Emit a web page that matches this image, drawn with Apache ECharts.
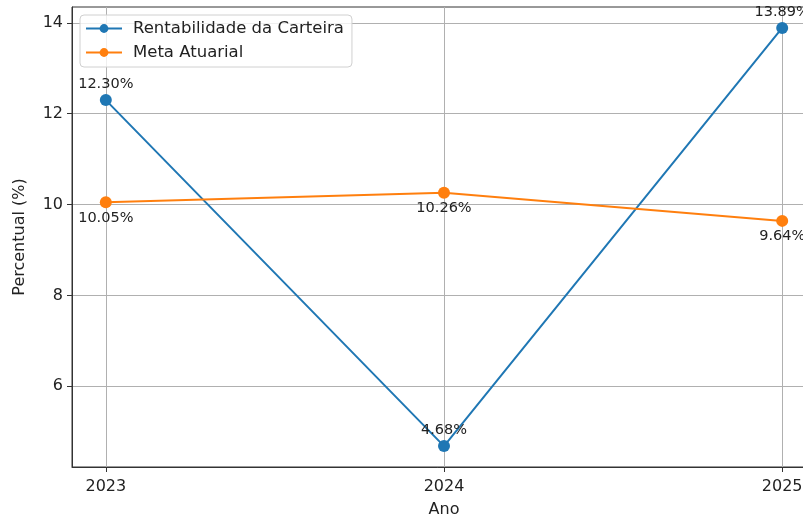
<!DOCTYPE html>
<html>
<head>
<meta charset="utf-8">
<script src="https://cdn.jsdelivr.net/npm/echarts@6/dist/echarts.min.js"></script>
<style>html,body{margin:0;padding:0;background:#fff}#c{width:803px;height:518px}</style>
</head>
<body>
<div id="c"></div>
<script>
const anos = [2023, 2024, 2025];
const rentabilidade = [12.30, 4.68, 13.89];
const metaAtuarial = [10.05, 10.26, 9.64];
const yTicks = [6, 8, 10, 12, 14];

const FONT = 'DejaVu Sans';
const chart = echarts.init(document.getElementById('c'), null, {renderer: 'canvas'});
const pair = (xs, ys) => xs.map((x, i) => [x, ys[i]]);
chart.setOption({
  animation: false,
  backgroundColor: '#fff',
  textStyle: {fontFamily: FONT},
  grid: {left: 72, top: 7, width: 744, height: 460, outerBoundsMode: 'none', containLabel: false,
    show: true, borderColor: '#333', borderWidth: 1, backgroundColor: 'transparent'},
  legend: {
    left: 80, top: 15, orient: 'vertical',
    itemWidth: 36, itemHeight: 11, itemGap: 7,
    padding: [5, 8, 6, 5],
    borderColor: '#d0d0d0', borderWidth: 1, borderRadius: 4, backgroundColor: 'rgba(255,255,255,0.8)',
    textStyle: {fontFamily: FONT, fontSize: 16.5, color: '#222', padding: [0, 0, 0, 6]},
    data: ['Rentabilidade da Carteira', 'Meta Atuarial']
  },
  xAxis: {
    type: 'value', min: 2022.9, max: 2025.1,
    name: 'Ano', nameLocation: 'middle', nameGap: 35,
    nameTextStyle: {fontFamily: FONT, fontSize: 16, color: '#222'},
    axisLine: {show: true, lineStyle: {color: '#333', width: 1}},
    axisTick: {show: true, length: 5, inside: false, customValues: anos, lineStyle: {color: '#333'}},
    axisLabel: {customValues: anos, fontFamily: FONT, fontSize: 16, color: '#222', margin: 12, formatter: v => String(Math.round(v))},
    splitLine: {show: true, lineStyle: {color: '#b0b0b0', width: 1}}
  },
  yAxis: {
    type: 'value', min: 4.22, max: 14.35,
    name: 'Percentual (%)', nameLocation: 'middle', nameGap: 44,
    nameTextStyle: {fontFamily: FONT, fontSize: 16, color: '#222'},
    axisLine: {show: true, lineStyle: {color: '#333', width: 1}},
    axisTick: {show: true, length: 5, inside: false, customValues: yTicks, lineStyle: {color: '#333'}},
    axisLabel: {customValues: yTicks, fontFamily: FONT, fontSize: 16, color: '#222', margin: 9},
    splitLine: {show: true, lineStyle: {color: '#b0b0b0', width: 1}}
  },
  series: [
    {
      name: 'Rentabilidade da Carteira', type: 'line',
      data: pair(anos, rentabilidade),
      color: '#1f77b4', symbol: 'circle', symbolSize: 12,
      lineStyle: {width: 2, color: '#1f77b4'},
      itemStyle: {color: '#1f77b4'},
      label: {show: true, position: 'top', distance: 2, fontFamily: FONT, fontSize: 14.5, color: '#222',
        formatter: p => p.value[1].toFixed(2) + '%'}
    },
    {
      name: 'Meta Atuarial', type: 'line',
      data: pair(anos, metaAtuarial),
      color: '#ff7f0e', symbol: 'circle', symbolSize: 12,
      lineStyle: {width: 2, color: '#ff7f0e'},
      itemStyle: {color: '#ff7f0e'},
      label: {show: true, position: 'bottom', distance: 2, fontFamily: FONT, fontSize: 14.5, color: '#222',
        formatter: p => p.value[1].toFixed(2) + '%'}
    }
  ]
});
</script>
</body>
</html>
